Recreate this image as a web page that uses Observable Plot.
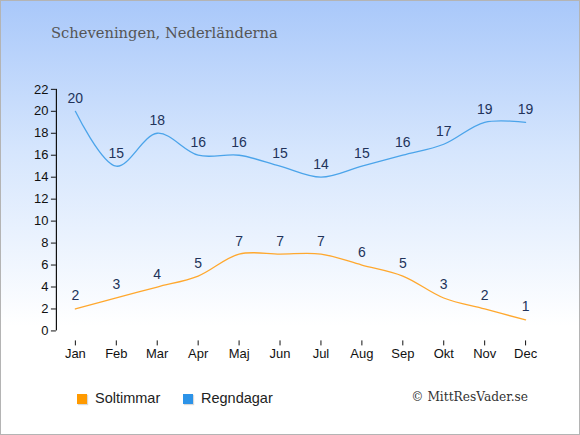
<!DOCTYPE html>
<html>
<head>
<meta charset="utf-8">
<script src="https://cdn.jsdelivr.net/npm/d3@7"></script>
<script src="https://cdn.jsdelivr.net/npm/@observablehq/plot@0.6"></script>
<style>
  html, body { margin: 0; padding: 0; }
  #wrap {
    position: relative; width: 580px; height: 435px; box-sizing: border-box;
    border: 1px solid #b4b4b4;
    background: linear-gradient(to bottom, #a9c8fa 0%, #d6e6fd 35%, #ffffff 75%, #ffffff 100%);
    overflow: hidden;
  }
  #chart { position: absolute; left: -1px; top: -1px; }
  #title { position: absolute; left: 50px; top: 23px; font-family: "DejaVu Serif", serif; font-size: 14.7px; color: #555; white-space: nowrap; }
  .leg { position: absolute; top: 389px; font-family: "Liberation Sans", Arial, sans-serif; font-size: 14.5px; color: #222; white-space: nowrap; }
  .sw { display: inline-block; width: 10px; height: 10px; margin-right: 8px; vertical-align: -1px; box-shadow: 1px 1px 1px rgba(0,0,0,0.15); }
  #copy { position: absolute; right: 51px; top: 389px; font-family: "DejaVu Serif", serif; font-size: 12.2px; color: #333; white-space: nowrap; }
</style>
</head>
<body>
<div id="wrap">
  <div id="chart"></div>
  <div id="title">Scheveningen, Nederländerna</div>
  <div class="leg" style="left:76px"><span class="sw" style="background:#ff9a00"></span>Soltimmar</div>
  <div class="leg" style="left:182px"><span class="sw" style="background:#2c93e8"></span>Regndagar</div>
  <div id="copy">© MittResVader.se</div>
</div>
<script>
const months = ["Jan","Feb","Mar","Apr","Maj","Jun","Jul","Aug","Sep","Okt","Nov","Dec"];
const soltimmar = [2,3,4,5,7,7,7,6,5,3,2,1];
const regndagar = [20,15,18,16,16,15,14,15,16,17,19,19];
const yTicks = [0,2,4,6,8,10,12,14,16,18,20,22];

const sol = months.map((m, i) => ({month: m, value: soltimmar[i]}));
const regn = months.map((m, i) => ({month: m, value: regndagar[i]}));

const chart = Plot.plot({
  width: 580,
  height: 435,
  marginLeft: 56,
  insetLeft: 19,
  marginRight: 54,
  marginTop: 89,
  marginBottom: 94,
  insetBottom: 10,
  style: {background: "transparent", fontFamily: "Liberation Sans, Arial, sans-serif", color: "#111"},
  x: {type: "point", domain: months, padding: 0},
  y: {domain: [0, 22]},
  marks: [
    Plot.axisY({ticks: yTicks, tickSize: 5, tickPadding: 3, fontSize: 13, label: null, stroke: "#111"}),
    Plot.axisX({tickSize: 5, tickPadding: 3, fontSize: 13, label: null, stroke: "#111"}),
    Plot.ruleX([months[0]], {y1: 0, y2: 22, dx: -19, stroke: "#111", strokeWidth: 1.2}),
    Plot.ruleY([0], {x1: months[0], x2: months[months.length - 1], dy: 10, stroke: "#111", strokeWidth: 1.2}),
    Plot.line(regn, {x: "month", y: "value", stroke: "#4ba4ea", strokeWidth: 1.3, curve: "catmull-rom"}),
    Plot.line(sol, {x: "month", y: "value", stroke: "#ffa82e", strokeWidth: 1.3, curve: "catmull-rom"}),
    Plot.text(regn, {x: "month", y: "value", text: "value", dy: -13, fill: "#22335a", fontSize: 14}),
    Plot.text(sol, {x: "month", y: "value", text: "value", dy: -13, fill: "#22335a", fontSize: 14})
  ]
});
document.getElementById("chart").appendChild(chart);
</script>
</body>
</html>
